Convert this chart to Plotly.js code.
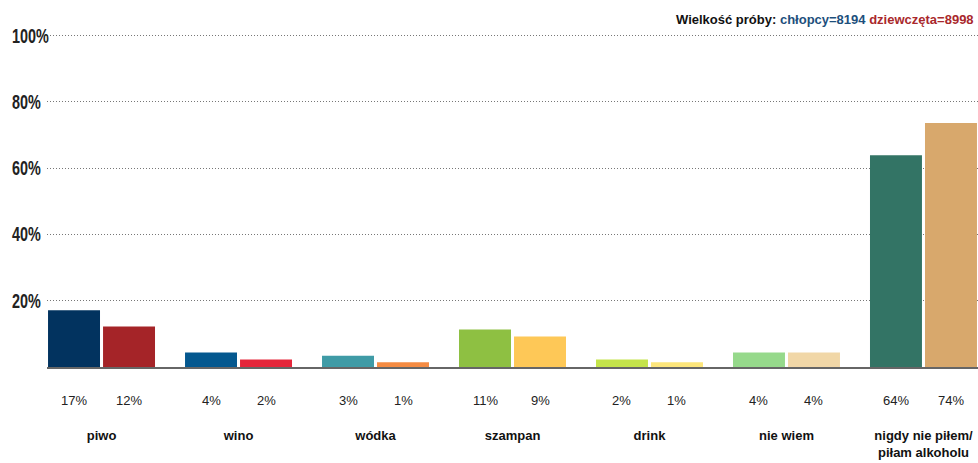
<!DOCTYPE html>
<html>
<head>
<meta charset="utf-8">
<script src="https://cdn.plot.ly/plotly-3.0.1.min.js"></script>
<style>
html,body{margin:0;padding:0;background:#fff;}
#chart{width:978px;height:463px;}
.ytl text{transform-box:fill-box;transform-origin:left center;transform:scaleX(0.72);}
</style>
</head>
<body>
<div id="chart"></div>
<script>
// ---- data ----
var categories = ["piwo", "wino", "wódka", "szampan", "drink", "nie wiem", "nigdy nie piłem/<br>piłam alkoholu"];
var boys  = [17.1, 4.4, 3.4, 11.3, 2.3, 4.4, 63.9];
var girls = [12.2, 2.3, 1.4, 9.2, 1.4, 4.4, 73.6];
var boysColors  = ["#02335f", "#04588f", "#3f9ba6", "#8ec042", "#c4e44a", "#96d98b", "#337465"];
var girlsColors = ["#a52428", "#e5263a", "#f58b42", "#fec857", "#fde67b", "#f1d7a7", "#d8a86c"];
var yTickVals = [20, 40, 60, 80, 100];
var yTickText = ["20%", "40%", "60%", "80%", "100%"];
var sampleBoys = 8194, sampleGirls = 8998;

var idx = categories.map(function(_, i){ return i; });

var traces = [
  {type: "bar", name: "chłopcy", x: idx, y: boys, marker: {color: boysColors}, hoverinfo: "skip"},
  {type: "bar", name: "dziewczęta", x: idx, y: girls, marker: {color: girlsColors}, hoverinfo: "skip"}
];

var annotations = [];
// y tick labels (left aligned)
yTickVals.forEach(function(v, i){
  annotations.push({
    xref: "paper", yref: "y", x: -0.0376, xshift: -2, y: v, xanchor: "left", yanchor: "middle",
    text: "<b>" + yTickText[i] + "</b>", showarrow: false,
    font: {family: "Liberation Sans, Arial, sans-serif", size: 20, color: "#222"}
  });
});
var nYt = annotations.length;
// percent labels under bars
idx.forEach(function(i){
  annotations.push({
    xref: "x", yref: "paper", x: i, y: -0.095, xshift: -27.5, yanchor: "middle",
    text: Math.round(boys[i]) + "%", showarrow: false,
    font: {family: "Liberation Sans, Arial, sans-serif", size: 13, color: "#222"}
  });
  annotations.push({
    xref: "x", yref: "paper", x: i, y: -0.095, xshift: 27.5, yanchor: "middle",
    text: Math.round(girls[i]) + "%", showarrow: false,
    font: {family: "Liberation Sans, Arial, sans-serif", size: 13, color: "#222"}
  });
});
// sample size
annotations.push({
  xref: "paper", yref: "paper", x: 1, y: 1.0, xanchor: "right", yanchor: "middle", xshift: -2,
  showarrow: false,
  text: "<b>Wielkość próby: <span style='color:#1d4f7c'>chłopcy=" + sampleBoys + "</span> <span style='color:#a9282c'>dziewczęta=" + sampleGirls + "</span></b>",
  font: {family: "Liberation Sans, Arial, sans-serif", size: 13, color: "#111"}
});

var layout = {
  width: 978, height: 463,
  margin: {l: 47, r: 0, t: 19, b: 96, pad: 0},
  paper_bgcolor: "#fff", plot_bgcolor: "#fff",
  barmode: "group", bargap: 0.197, bargroupgap: 0.055,
  showlegend: false,
  xaxis: {
    range: [-0.398, 6.398], tickmode: "array", tickvals: idx, ticktext: categories.map(function(c){ return "<b>" + c + "</b>"; }),
    showline: true, linecolor: "#666", linewidth: 2, ticks: "", showgrid: false, zeroline: false,
    ticklabelstandoff: 55,
    tickfont: {family: "Liberation Sans, Arial, sans-serif", size: 13, color: "#111"}
  },
  yaxis: {
    range: [0, 105], tickmode: "array", tickvals: yTickVals, showticklabels: false,
    showgrid: true, gridcolor: "#777", gridwidth: 1, griddash: "1px,2px", zeroline: false, showline: false, ticks: ""
  },
  annotations: annotations
};

Plotly.newPlot("chart", traces, layout, {displayModeBar: false, staticPlot: true}).then(function(gd){
  var anns = gd.querySelectorAll(".annotation");
  for (var k = 0; k < anns.length; k++) {
    var idxAttr = anns[k].getAttribute("data-index");
    if (idxAttr !== null && +idxAttr < nYt) anns[k].classList.add("ytl");
  }
});
</script>
</body>
</html>
